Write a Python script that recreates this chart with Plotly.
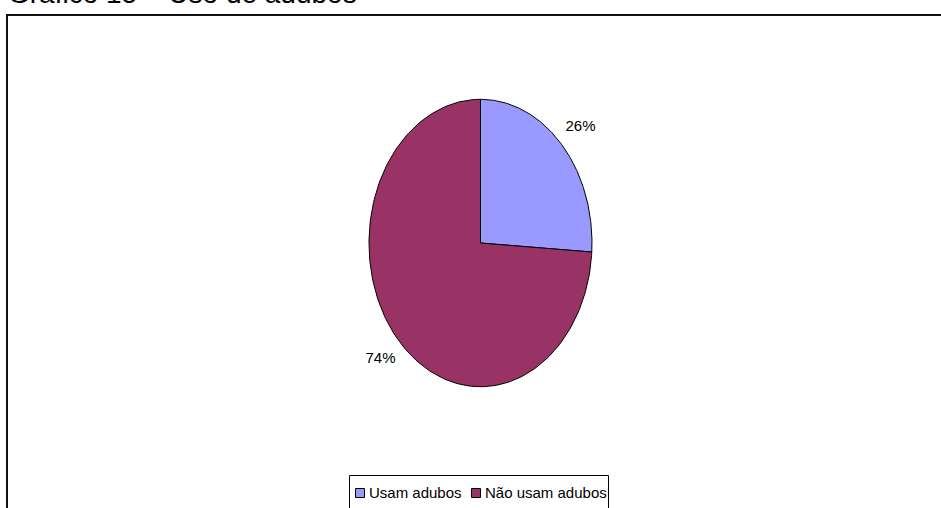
import numpy as np
import plotly.graph_objects as go

# Survey answers: share of respondents using fertilizer
categories = ["Usam adubos", "Não usam adubos"]
values = [26, 74]
colors = ["#9999FF", "#993366"]
title_text = "Gráfico 15 – Uso de adubos"

W, H = 941, 508
FONT = "Liberation Sans, Arial, sans-serif"


def px_x(x):
    return x / W


def px_y(y):
    return 1 - y / H


fig = go.Figure()

# Pie wedges drawn as filled polygons on unit-scaled axes; the unequal
# axis scaling gives the tall elliptical pie.
total = float(sum(values))
start = 0.0
label_x, label_y = [], []
for name, val, col in zip(categories, values, colors):
    frac = val / total
    t = np.linspace(start, start + frac, 200)
    ang = 2 * np.pi * t
    xs = np.concatenate([[0], np.sin(ang), [0]])
    ys = np.concatenate([[0], np.cos(ang), [0]])
    fig.add_trace(go.Scatter(
        x=xs, y=ys, mode="lines", fill="toself", fillcolor=col,
        line=dict(color="#000000", width=1), name=name,
        showlegend=False, hoverinfo="name",
    ))
    mid = 2 * np.pi * (start + frac / 2)
    label_x.append(1.23 * np.sin(mid))
    label_y.append(1.18 * np.cos(mid))
    start += frac

# Percentage labels outside each wedge
fig.add_trace(go.Scatter(
    x=label_x, y=label_y, mode="text",
    text=[f"{v}%" for v in values], textposition="middle center",
    textfont=dict(family=FONT, size=15, color="#000000"),
    showlegend=False, hoverinfo="skip", cliponaxis=False,
))

# Axis geometry: centre (480.5, 243) px, radii 111.5 x 143.7 px
R = 1.3
cx, cy, rx, ry = 480.5, 243.0, 111.5, 143.7
fig.update_xaxes(range=[-R, R], domain=[px_x(cx - R * rx), px_x(cx + R * rx)],
                 visible=False, fixedrange=True)
fig.update_yaxes(range=[-R, R], domain=[px_y(cy + R * ry), px_y(cy - R * ry)],
                 visible=False, fixedrange=True)

shapes = [
    # chart area frame (runs past the right and bottom edges)
    dict(type="rect", xref="paper", yref="paper",
         x0=px_x(7), x1=px_x(W + 20), y0=px_y(15), y1=px_y(H + 20),
         line=dict(color="#111111", width=2), layer="below"),
    # legend frame
    dict(type="rect", xref="paper", yref="paper",
         x0=px_x(349.5), x1=px_x(608.5), y0=px_y(475.5), y1=px_y(H + 20),
         line=dict(color="#000000", width=1), fillcolor="white", layer="below"),
]

# Legend entries: swatch + label
legend_swatch_x = [355.5, 471.5]
legend_text_x = [367, 483]
annotations = []
for name, col, sx, tx in zip(categories, colors, legend_swatch_x, legend_text_x):
    shapes.append(dict(type="rect", xref="paper", yref="paper",
                       x0=px_x(sx), x1=px_x(sx + 9), y0=px_y(497.5), y1=px_y(488.5),
                       fillcolor=col, line=dict(color="#000000", width=1)))
    annotations.append(dict(text=name, xref="paper", yref="paper",
                            x=px_x(tx), y=px_y(492), xanchor="left", yanchor="middle",
                            showarrow=False,
                            font=dict(family=FONT, size=15, color="#000000")))

# Figure title at the top-left
annotations.append(dict(text=title_text, xref="paper", yref="paper",
                        x=px_x(6), y=px_y(-7), xanchor="left", yanchor="middle",
                        showarrow=False,
                        font=dict(family=FONT, size=28, color="#000000")))

fig.update_layout(
    width=W, height=H,
    margin=dict(l=0, r=0, t=0, b=0, autoexpand=False),
    paper_bgcolor="white", plot_bgcolor="rgba(0,0,0,0)",
    shapes=shapes, annotations=annotations, showlegend=False,
)

fig.write_html("out.html")
